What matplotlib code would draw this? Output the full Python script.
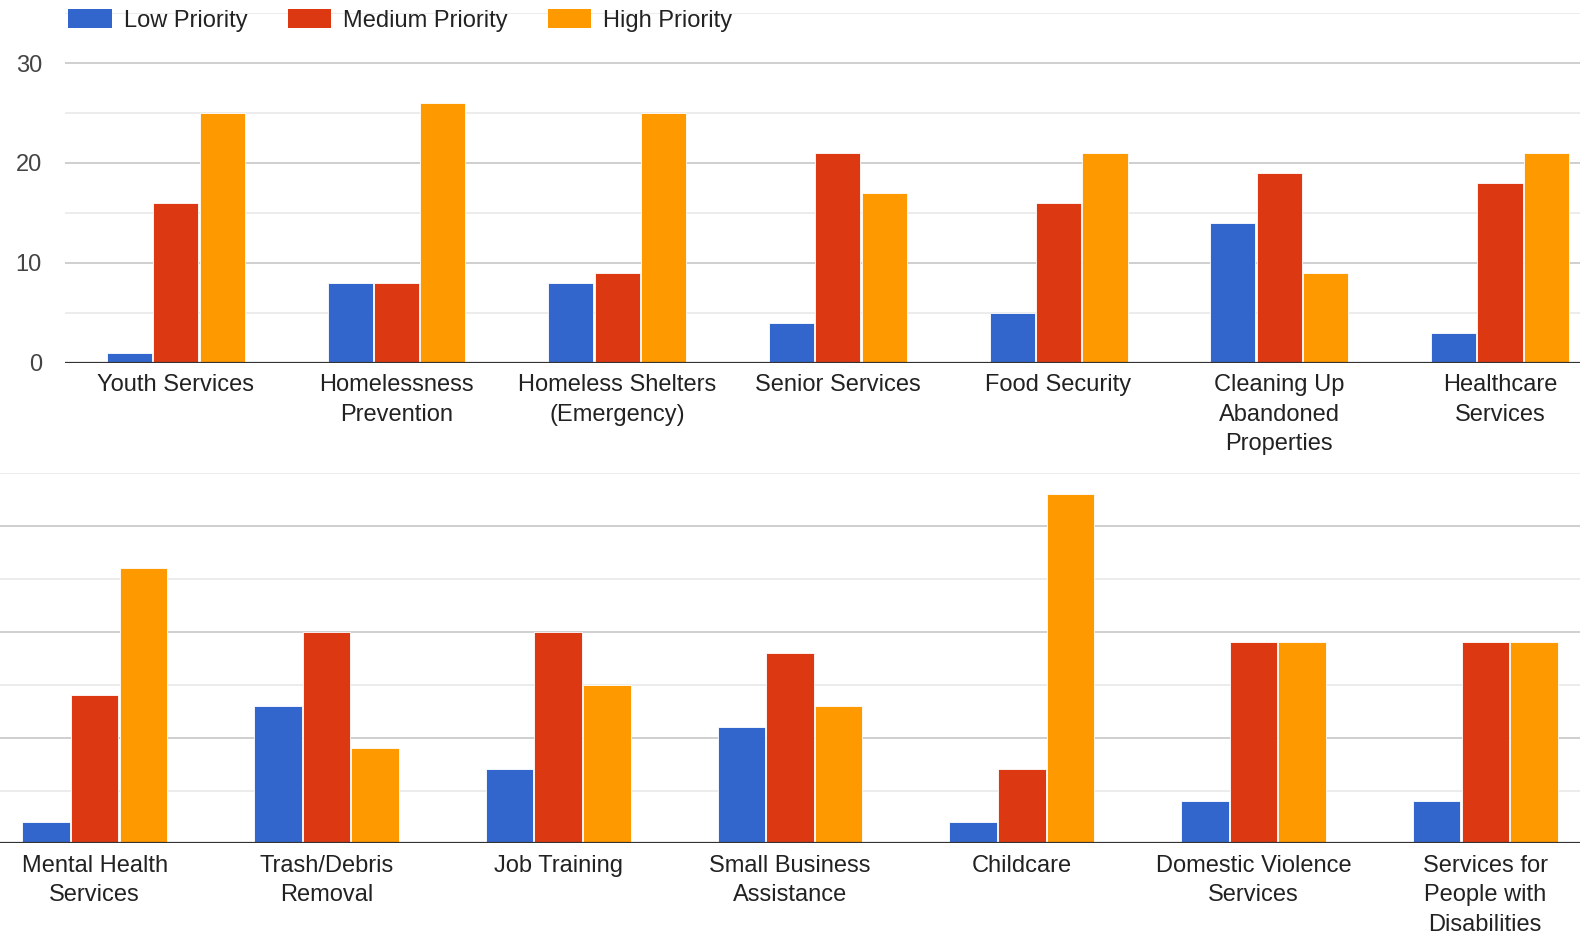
import numpy as np
import matplotlib
matplotlib.use("Agg")
import matplotlib.pyplot as plt
from matplotlib.patches import Patch

plt.rcParams['font.family'] = ['Liberation Sans', 'DejaVu Sans']

# data
top_categories = ["Youth Services", "Homelessness\nPrevention", "Homeless Shelters\n(Emergency)",
                  "Senior Services", "Food Security", "Cleaning Up\nAbandoned\nProperties",
                  "Healthcare\nServices"]
top_low = [1, 8, 8, 4, 5, 14, 3]
top_medium = [16, 8, 9, 21, 16, 19, 18]
top_high = [25, 26, 25, 17, 21, 9, 21]

bottom_categories = ["Mental Health\nServices", "Trash/Debris\nRemoval", "Job Training",
                     "Small Business\nAssistance", "Childcare", "Domestic Violence\nServices",
                     "Services for\nPeople with\nDisabilities"]
bottom_low = [2, 13, 7, 11, 2, 4, 4]
bottom_medium = [14, 20, 20, 18, 7, 19, 19]
bottom_high = [26, 9, 15, 13, 33, 19, 19]

series_names = ["Low Priority", "Medium Priority", "High Priority"]
colors = ["#3366CC", "#DC3912", "#FF9900"]

W, H = 1580, 938
s = 1580 / 1568  # measured positions were taken on a 1568 wide view
fig = plt.figure(figsize=(W / 100, H / 100), dpi=100)


def draw_panel(ax, cats, low, med, high, show_y):
    x = np.arange(len(cats))
    bw = 0.205
    for k, vals in enumerate([low, med, high]):
        ax.bar(x + (k - 1) * (bw + 0.005), vals, width=bw, color=colors[k],
               edgecolor="white", linewidth=0.6, zorder=3)
    ax.set_xlim(-0.5, len(cats) - 0.5)
    ax.set_ylim(0, 35)
    # gridlines: major every 10, light ones every 5
    for v in range(5, 36, 5):
        c = "#cccccc" if v % 10 == 0 else "#ebebeb"
        ax.axhline(v, color=c, linewidth=1.3, zorder=1)
    ax.axhline(0, color="#333333", linewidth=1.6, zorder=4)
    ax.set_xticks(x)
    ax.set_xticklabels(cats, fontsize=17, color="#222222", linespacing=1.45)
    ax.tick_params(axis="x", length=0, pad=8)
    if show_y:
        ax.set_yticks([0, 10, 20, 30])
        ax.tick_params(axis="y", length=0, pad=17, labelsize=17, labelcolor="#444444")
    else:
        ax.set_yticks([])
    for sp in ax.spines.values():
        sp.set_visible(False)


ax1 = fig.add_axes([65 * s / W, 1 - 360 * s / H, 1533 * s / W, 347 * s / H])
draw_panel(ax1, top_categories, top_low, top_medium, top_high, True)

ax2 = fig.add_axes([-21 * s / W, 1 - 837 * s / H, 1610 * s / W, 367.5 * s / H])
draw_panel(ax2, bottom_categories, bottom_low, bottom_medium, bottom_high, False)

handles = [Patch(facecolor=c, edgecolor="none") for c in colors]
fig.legend(handles, series_names, loc="upper left", bbox_to_anchor=(47 / W, 1 + 12 / H),
           ncol=3, frameon=False, fontsize=17, handlelength=1.85, handleheight=0.85,
           handletextpad=0.5, columnspacing=1.7, labelcolor="#222222")

fig.savefig("out.png", dpi=100)
